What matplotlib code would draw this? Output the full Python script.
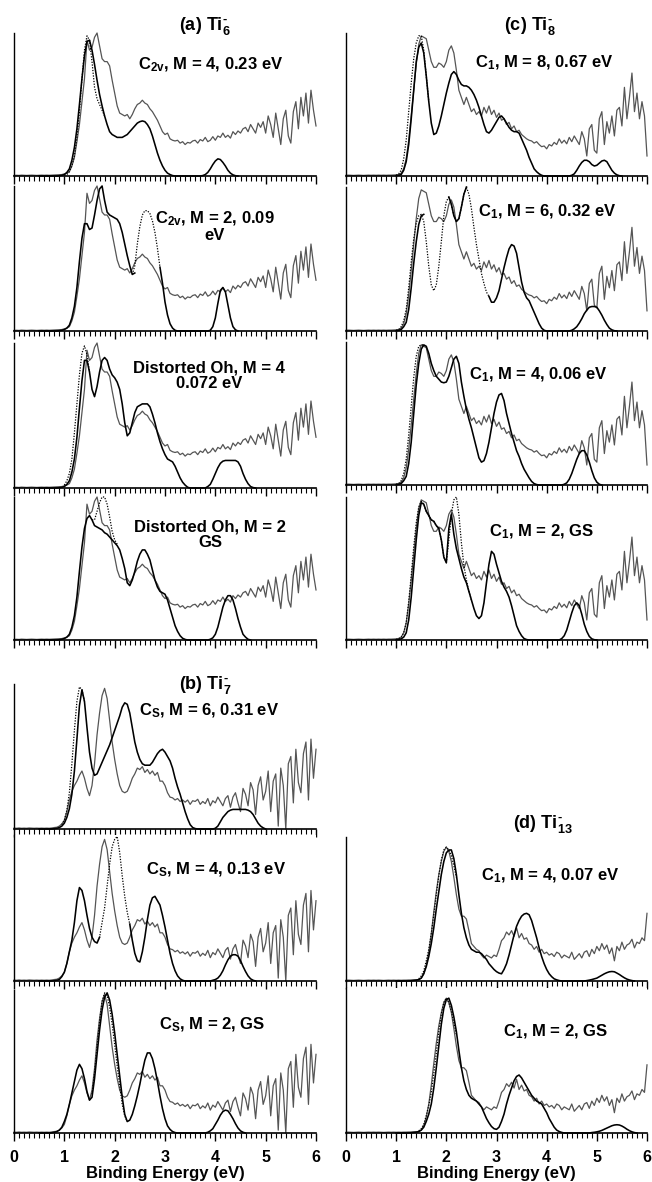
import numpy as np
import matplotlib.pyplot as plt
from matplotlib.ticker import MultipleLocator

plt.rcParams["font.family"] = ["Liberation Sans", "DejaVu Sans"]
plt.rcParams["font.weight"] = "bold"
plt.rcParams["mathtext.fontset"] = "custom"
plt.rcParams["mathtext.rm"] = "Liberation Sans:bold"
plt.rcParams["mathtext.it"] = "Liberation Sans:bold"
plt.rcParams["mathtext.bf"] = "Liberation Sans:bold"
plt.rcParams["mathtext.sf"] = "Liberation Sans:bold"

nan = np.nan
STEP = 0.05   # eV, sampling of every curve below

# ---- experimental spectra, 0.00 ... 6.00 eV (rows of 0.5 eV) ----
TI6_EXP = [
    0.004, 0.005, 0.004, 0.006, 0.005, 0.004, 0.005, 0.006, 0.005, 0.004,
    0.005, 0.006, 0.005, 0.006, 0.005, 0.006, 0.007, 0.008, 0.009, 0.010,
    0.015, 0.02, 0.03, 0.07, 0.13, 0.24, 0.36, 0.52, 0.68, 0.95,
    0.88, 0.90, 0.97, 1.00, 0.91, 0.82, 0.80, 0.80, 0.77, 0.67,
    0.58, 0.49, 0.44, 0.43, 0.42, 0.43, 0.40, 0.43, 0.47, 0.50,
    0.51, 0.53, 0.51, 0.50, 0.47, 0.45, 0.42, 0.39, 0.35, 0.31,
    0.29, 0.30, 0.26, 0.25, 0.245, 0.25, 0.23, 0.24, 0.22, 0.235,
    0.23, 0.245, 0.25, 0.23, 0.255, 0.245, 0.27, 0.24, 0.25, 0.275,
    0.25, 0.28, 0.27, 0.30, 0.27, 0.285, 0.265, 0.31, 0.29, 0.315,
    0.30, 0.33, 0.34, 0.31, 0.36, 0.33, 0.30, 0.37, 0.34, 0.38,
    0.30, 0.42, 0.36, 0.27, 0.44, 0.33, 0.22, 0.40, 0.46, 0.28,
    0.23, 0.45, 0.52, 0.33, 0.55, 0.42, 0.58, 0.37, 0.60, 0.46,
    0.35,
]
TI7_EXP = [
    0.006, 0.005, 0.007, 0.005, 0.006, 0.005, 0.007, 0.006, 0.005, 0.006,
    0.005, 0.006, 0.005, 0.006, 0.005, 0.007, 0.010, 0.012, 0.020, 0.035,
    0.06, 0.12, 0.20, 0.26, 0.30, 0.33, 0.37, 0.40, 0.35, 0.28,
    0.23, 0.30, 0.45, 0.65, 0.80, 0.92, 0.97, 0.90, 0.75, 0.60,
    0.48, 0.38, 0.30, 0.26, 0.25, 0.26, 0.30, 0.35, 0.38, 0.42,
    0.41, 0.43, 0.39, 0.41, 0.38, 0.40, 0.37, 0.39, 0.33, 0.33,
    0.30, 0.25, 0.22, 0.215, 0.20, 0.21, 0.19, 0.20, 0.185, 0.20,
    0.17, 0.195, 0.19, 0.205, 0.17, 0.19, 0.175, 0.21, 0.16, 0.195,
    0.18, 0.22, 0.19, 0.16, 0.21, 0.23, 0.15, 0.22, 0.25, 0.18,
    0.12, 0.28, 0.24, 0.16, 0.32, 0.27, 0.10, 0.30, 0.36, 0.20,
    0.26, 0.40, 0.12, 0.33, 0.38, 0.02, 0.42, 0.30, 0.00, 0.45,
    0.50, 0.18, 0.55, 0.32, 0.25, 0.52, 0.60, 0.20, 0.62, 0.35,
    0.55,
]
TI8_EXP = [
    0.005, 0.006, 0.005, 0.004, 0.005, 0.006, 0.005, 0.004, 0.005, 0.006,
    0.005, 0.006, 0.005, 0.006, 0.005, 0.006, 0.005, 0.006, 0.006, 0.007,
    0.008, 0.01, 0.02, 0.05, 0.12, 0.25, 0.42, 0.60, 0.78, 0.92,
    0.98, 0.97, 0.96, 0.88, 0.80, 0.76, 0.76, 0.79, 0.78, 0.76,
    0.80, 0.88, 0.91, 0.86, 0.74, 0.60, 0.55, 0.50, 0.55, 0.50,
    0.45, 0.47, 0.43, 0.45, 0.42, 0.48, 0.44, 0.49, 0.43, 0.46,
    0.41, 0.44, 0.39, 0.40, 0.36, 0.375, 0.33, 0.35, 0.31, 0.32,
    0.29, 0.275, 0.26, 0.25, 0.245, 0.23, 0.24, 0.22, 0.205, 0.21,
    0.19, 0.22, 0.21, 0.235, 0.22, 0.26, 0.23, 0.25, 0.225, 0.27,
    0.24, 0.28, 0.25, 0.22, 0.31, 0.26, 0.14, 0.33, 0.36, 0.18,
    0.16, 0.40, 0.45, 0.22, 0.38, 0.30, 0.42, 0.28, 0.46, 0.48,
    0.35, 0.62, 0.40, 0.55, 0.72, 0.45, 0.58, 0.40, 0.52, 0.42,
    0.14,
]
TI13_EXP = [
    0.005, 0.006, 0.005, 0.004, 0.005, 0.006, 0.005, 0.004, 0.005, 0.006,
    0.005, 0.006, 0.005, 0.006, 0.005, 0.004, 0.005, 0.006, 0.005, 0.006,
    0.005, 0.006, 0.005, 0.006, 0.006, 0.007, 0.007, 0.008, 0.009, 0.010,
    0.02, 0.05, 0.11, 0.20, 0.33, 0.48, 0.62, 0.74, 0.83, 0.90,
    0.93, 0.90, 0.83, 0.72, 0.60, 0.50, 0.45, 0.45, 0.43, 0.35,
    0.26, 0.24, 0.22, 0.21, 0.18, 0.16, 0.18, 0.17, 0.16, 0.18,
    0.17, 0.22, 0.28, 0.30, 0.34, 0.32, 0.35, 0.31, 0.37, 0.30,
    0.33, 0.29, 0.30, 0.26, 0.25, 0.22, 0.24, 0.20, 0.22, 0.19,
    0.20, 0.18, 0.19, 0.17, 0.20, 0.19, 0.16, 0.18, 0.17, 0.16,
    0.20, 0.15, 0.17, 0.19, 0.16, 0.20, 0.21, 0.17, 0.22, 0.19,
    0.24, 0.21, 0.26, 0.22, 0.25, 0.19, 0.23, 0.14, 0.24, 0.21,
    0.27, 0.22, 0.25, 0.26, 0.29, 0.23, 0.27, 0.26, 0.30, 0.28,
    0.47,
]

# ---- calculated spectra, solid: (start eV, values); nan = drawn dotted only ----
A1_CALC = (0.5, [
    0, 0, 0, 0, 0, 0, 0, 0, 0.002, 0.005,
    0.01, 0.025, 0.05, 0.11, 0.20, 0.33, 0.50, 0.68, 0.84, 0.94,
    0.95, 0.88, 0.78, 0.67, 0.57, 0.49, 0.42, 0.36, 0.31, 0.29,
    0.28, 0.27, 0.27, 0.27, 0.28, 0.29, 0.31, 0.33, 0.35, 0.37,
    0.38, 0.385, 0.38, 0.36, 0.33, 0.28, 0.22, 0.16, 0.11, 0.07,
    0.04, 0.02, 0.01, 0.003, 0, 0, 0, 0, 0, 0,
    0, 0, 0, 0, 0, 0.003, 0.01, 0.025, 0.05, 0.08,
    0.105, 0.12, 0.115, 0.095, 0.07, 0.04, 0.02, 0.008, 0.002, 0,
])
A2_CALC = (0.5, [
    0, 0, 0, 0, 0, 0, 0, 0, 0.002, 0.005,
    0.01, 0.02, 0.04, 0.09, 0.17, 0.30, 0.48, 0.64, 0.74, 0.74,
    0.70, 0.71, 0.80, 0.90, 0.98, 1.00, 0.90, 0.82, 0.80, 0.79,
    0.78, 0.77, 0.74, 0.68, 0.60, 0.52, 0.45, 0.39, 0.40, nan,
    nan, nan, nan, nan, nan, nan, nan, nan, 0.44, 0.33,
    0.20, 0.11, 0.05, 0.02, 0.005, 0, 0, 0, 0, 0,
    0, 0, 0, 0, 0, 0, 0, 0, 0.005, 0.03,
    0.09, 0.19, 0.28, 0.30, 0.27, 0.18, 0.09, 0.03, 0.008, 0,
])
A3_CALC = (0.5, [
    0, 0, 0, 0, 0, 0, 0, 0, 0.002, 0.005,
    0.01, 0.025, 0.05, 0.11, 0.20, 0.35, 0.55, 0.74, 0.88, 0.88,
    0.80, 0.68, 0.63, 0.70, 0.80, 0.88, 0.90, 0.88, 0.82, 0.78,
    0.76, 0.73, 0.68, 0.58, 0.45, 0.36, 0.38, 0.45, 0.52, 0.56,
    0.57, 0.58, 0.58, 0.58, 0.56, 0.51, 0.45, 0.38, 0.32, 0.27,
    0.23, 0.20, 0.19, 0.18, 0.15, 0.11, 0.07, 0.04, 0.02, 0.005,
    0, 0, 0, 0, 0, 0, 0, 0.01, 0.025, 0.06,
    0.10, 0.14, 0.17, 0.185, 0.19, 0.19, 0.19, 0.19, 0.19, 0.18,
    0.15, 0.10, 0.06, 0.03, 0.01, 0.003, 0,
])
A4_CALC = (0.5, [
    0, 0, 0, 0, 0, 0, 0, 0, 0.002, 0.005,
    0.01, 0.02, 0.04, 0.09, 0.17, 0.30, 0.48, 0.65, 0.78, 0.85,
    0.87, 0.84, 0.80, 0.79, 0.78, 0.77, 0.75, 0.74, 0.72, 0.70,
    0.68, 0.66, 0.63, 0.57, 0.50, 0.40, 0.38, 0.42, 0.48, 0.55,
    0.60, 0.63, 0.63, 0.60, 0.56, 0.49, 0.42, 0.37, 0.34, 0.33,
    0.32, 0.28, 0.22, 0.16, 0.10, 0.06, 0.03, 0.012, 0.004, 0,
    0, 0, 0, 0, 0, 0, 0, 0, 0.005, 0.015,
    0.04, 0.09, 0.16, 0.23, 0.28, 0.31, 0.31, 0.28, 0.22, 0.15,
    0.09, 0.04, 0.02, 0.005, 0,
])
B1_CALC = (0.5, [
    0, 0, 0, 0, 0, 0, 0.002, 0.005, 0.01, 0.02,
    0.04, 0.08, 0.14, 0.24, 0.40, 0.62, 0.85, 0.96, 0.88, 0.70,
    0.53, 0.42, 0.37, 0.38, 0.42, 0.46, 0.50, 0.54, 0.58, 0.63,
    0.68, 0.73, 0.78, 0.84, 0.87, 0.86, 0.80, 0.70, 0.60, 0.53,
    0.48, 0.45, 0.44, 0.44, 0.44, 0.46, 0.49, 0.52, 0.54, 0.55,
    0.53, 0.50, 0.47, 0.42, 0.35, 0.29, 0.24, 0.18, 0.12, 0.07,
    0.03, 0.01, 0.003, 0, 0, 0, 0, 0, 0, 0,
    0.005, 0.02, 0.05, 0.08, 0.10, 0.12, 0.13, 0.135, 0.135, 0.135,
    0.135, 0.135, 0.135, 0.13, 0.12, 0.10, 0.07, 0.04, 0.02, 0.008,
    0,
])
B2_CALC = (0.5, [
    0, 0, 0, 0, 0, 0, 0.002, 0.005, 0.01, 0.03,
    0.06, 0.12, 0.20, 0.28, 0.40, 0.55, 0.64, 0.62, 0.55, 0.45,
    0.36, 0.30, 0.27, 0.26, 0.30, nan, nan, nan, nan, nan,
    nan, nan, nan, nan, nan, nan, 0.39, 0.28, 0.19, 0.14,
    0.13, 0.20, 0.30, 0.42, 0.52, 0.57, 0.58, 0.55, 0.52, 0.45,
    0.37, 0.28, 0.19, 0.12, 0.07, 0.035, 0.015, 0.005, 0, 0,
    0, 0, 0, 0, 0, 0, 0, 0, 0, 0.005,
    0.01, 0.02, 0.04, 0.07, 0.11, 0.145, 0.17, 0.18, 0.18, 0.17,
    0.14, 0.10, 0.065, 0.035, 0.015, 0.005, 0,
])
B3_CALC = (0.5, [
    0, 0, 0, 0, 0, 0.002, 0.005, 0.01, 0.02, 0.04,
    0.08, 0.13, 0.20, 0.28, 0.36, 0.44, 0.48, 0.45, 0.38, 0.29,
    0.23, 0.25, 0.38, 0.55, 0.72, 0.86, 0.95, 0.98, 0.93, 0.83,
    0.70, 0.55, 0.40, 0.25, 0.13, 0.08, 0.09, 0.13, 0.19, 0.26,
    0.34, 0.43, 0.51, 0.56, 0.56, 0.52, 0.45, 0.36, 0.26, 0.17,
    0.10, 0.05, 0.025, 0.01, 0.003, 0, 0, 0, 0, 0,
    0, 0, 0, 0, 0, 0, 0, 0.005, 0.015, 0.03,
    0.06, 0.09, 0.125, 0.15, 0.16, 0.155, 0.13, 0.10, 0.065, 0.035,
    0.015, 0.005, 0,
])
C1_CALC = (1.0, [
    0.002, 0.005, 0.01, 0.04, 0.10, 0.22, 0.40, 0.60, 0.80, 0.90,
    0.93, 0.86, 0.70, 0.52, 0.37, 0.29, 0.30, 0.35, 0.42, 0.50,
    0.58, 0.65, 0.71, 0.73, 0.71, 0.67, 0.64, 0.63, 0.63, 0.62,
    0.60, 0.57, 0.53, 0.48, 0.42, 0.36, 0.31, 0.30, 0.32, 0.35,
    0.38, 0.41, 0.42, 0.40, 0.37, 0.34, 0.32, 0.31, 0.31, 0.30,
    0.26, 0.22, 0.18, 0.13, 0.09, 0.05, 0.03, 0.015, 0.005, 0,
    0, 0, 0, 0, 0, 0, 0, 0, 0, 0,
    0.005, 0.015, 0.04, 0.07, 0.095, 0.11, 0.11, 0.10, 0.08, 0.07,
    0.075, 0.09, 0.105, 0.11, 0.10, 0.07, 0.04, 0.02, 0.008, 0.002,
    0,
])
C2_CALC = (1.0, [
    0.002, 0.005, 0.01, 0.03, 0.06, 0.15, 0.30, 0.47, 0.62, 0.74,
    0.80, 0.81, nan, nan, nan, nan, nan, nan, nan, nan,
    nan, 0.93, 0.88, 0.80, 0.76, 0.78, 0.86, 0.95, 1.00, nan,
    nan, nan, nan, nan, nan, nan, nan, 0.24, 0.20, 0.20,
    0.23, 0.28, 0.36, 0.44, 0.51, 0.57, 0.60, 0.59, 0.54, 0.44,
    0.34, 0.27, 0.23, 0.21, 0.17, 0.13, 0.09, 0.05, 0.02, 0.005,
    0, 0, 0, 0, 0, 0, 0, 0, 0, 0,
    0.005, 0.015, 0.03, 0.055, 0.085, 0.12, 0.145, 0.165, 0.17, 0.17,
    0.165, 0.14, 0.11, 0.075, 0.045, 0.02, 0.008, 0.002, 0,
])
C3_CALC = (1.0, [
    0.002, 0.005, 0.01, 0.03, 0.06, 0.15, 0.30, 0.50, 0.70, 0.85,
    0.95, 0.98, 0.97, 0.92, 0.85, 0.80, 0.76, 0.74, 0.72, 0.715,
    0.72, 0.76, 0.82, 0.88, 0.90, 0.85, 0.72, 0.62, 0.53, 0.46,
    0.40, 0.33, 0.26, 0.19, 0.16, 0.17, 0.22, 0.30, 0.40, 0.50,
    0.58, 0.63, 0.64, 0.59, 0.50, 0.43, 0.36, 0.30, 0.24, 0.20,
    0.15, 0.11, 0.08, 0.05, 0.025, 0.01, 0.003, 0, 0, 0,
    0, 0, 0, 0, 0, 0, 0, 0.005, 0.015, 0.04,
    0.08, 0.13, 0.18, 0.22, 0.24, 0.24, 0.21, 0.16, 0.10, 0.05,
    0.02, 0.005, 0,
])
C4_CALC = (1.0, [
    0.002, 0.004, 0.008, 0.02, 0.05, 0.14, 0.30, 0.50, 0.70, 0.87,
    0.96, 0.95, 0.90, 0.87, 0.84, 0.83, 0.80, 0.78, 0.70, 0.58,
    0.54, 0.78, 0.88, 0.74, 0.64, 0.57, 0.50, 0.44, 0.40, 0.34,
    0.28, 0.22, 0.17, 0.15, 0.17, 0.26, 0.40, 0.53, 0.62, 0.60,
    0.53, 0.47, 0.41, 0.37, 0.34, 0.30, 0.24, 0.17, 0.10, 0.06,
    0.03, 0.01, 0.003, 0, 0, 0, 0, 0, 0, 0,
    0, 0, 0, 0, 0, 0, 0.01, 0.03, 0.07, 0.13,
    0.19, 0.24, 0.26, 0.24, 0.18, 0.11, 0.06, 0.025, 0.008, 0.002,
    0,
])
D1_CALC = (1.0, [
    0, 0, 0, 0, 0, 0, 0.002, 0.004, 0.006, 0.01,
    0.02, 0.05, 0.10, 0.17, 0.26, 0.37, 0.50, 0.62, 0.74, 0.83,
    0.89, 0.91, 0.91, 0.85, 0.74, 0.60, 0.47, 0.37, 0.30, 0.25,
    0.22, 0.21, 0.20, 0.20, 0.19, 0.17, 0.15, 0.12, 0.10, 0.08,
    0.065, 0.055, 0.05, 0.08, 0.12, 0.18, 0.25, 0.32, 0.38, 0.42,
    0.45, 0.465, 0.47, 0.46, 0.42, 0.36, 0.30, 0.23, 0.17, 0.12,
    0.08, 0.05, 0.03, 0.015, 0.008, 0.003, 0, 0, 0, 0,
    0, 0, 0, 0, 0, 0, 0.003, 0.006, 0.01, 0.015,
    0.02, 0.03, 0.04, 0.05, 0.058, 0.064, 0.066, 0.064, 0.055, 0.045,
    0.033, 0.022, 0.013, 0.007, 0.003, 0,
])
D2_CALC = (1.0, [
    0, 0, 0, 0, 0, 0, 0.002, 0.004, 0.006, 0.01,
    0.02, 0.04, 0.08, 0.13, 0.20, 0.31, 0.45, 0.60, 0.75, 0.86,
    0.92, 0.93, 0.88, 0.80, 0.70, 0.57, 0.45, 0.36, 0.30, 0.26,
    0.24, 0.23, 0.22, 0.20, 0.18, 0.14, 0.10, 0.07, 0.045, 0.03,
    0.025, 0.04, 0.08, 0.13, 0.20, 0.26, 0.31, 0.36, 0.39, 0.40,
    0.38, 0.35, 0.32, 0.29, 0.26, 0.24, 0.22, 0.21, 0.20, 0.17,
    0.14, 0.10, 0.07, 0.04, 0.02, 0.01, 0.004, 0, 0, 0,
    0, 0, 0, 0, 0, 0, 0, 0, 0.003, 0.005,
    0.008, 0.012, 0.018, 0.026, 0.034, 0.042, 0.05, 0.055, 0.057, 0.055,
    0.048, 0.038, 0.026, 0.016, 0.008, 0.003, 0,
])

# ---- calculated spectra, dotted: (start eV, values) ----
A1_DOT = (1.0, [0.005, 0.01, 0.03, 0.07, 0.14, 0.27, 0.45, 0.68, 0.88, 0.98,
                0.95, 0.80, 0.62, 0.54, 0.50, 0.46, 0.42])
A2_DOT = (2.35, [0.39, 0.45, 0.60, 0.72, 0.80, 0.83, 0.83, 0.81, 0.76, 0.68, 0.57, 0.44])
A3_DOT = (1.0, [0.02, 0.05, 0.10, 0.20, 0.38, 0.58, 0.78, 0.93, 0.98, 0.92, 0.80])
A4_DOT = (1.55, [0.84, 0.84, 0.90, 0.96, 1.00, 1.00, 0.95, 0.86, 0.76, 0.70, 0.67])
B1_DOT = (0.95, [0.03, 0.06, 0.13, 0.25, 0.45, 0.68, 0.88, 0.98, 0.96, 0.88])
B2_DOT = (1.65, [0.26, 0.30, 0.40, 0.50, 0.65, 0.80, 0.92, 0.97, 0.99, 0.88,
                 0.72, 0.58, 0.47, 0.39])
B3_DOT = (1.55, [0.27, 0.42, 0.60, 0.78, 0.92, 0.98, 0.96, 0.88, 0.76, 0.62,
                 0.47, 0.33, 0.20, 0.12, 0.08])
C1_DOT = (1.0, [0.005, 0.015, 0.04, 0.12, 0.25, 0.45, 0.65, 0.82, 0.93, 0.98,
                0.98, 0.88, 0.70, 0.52])
C2_DOT = (1.0, [0.005, 0.01, 0.03, 0.07, 0.15, 0.30, 0.48, 0.64, 0.75, 0.80,
                0.81, 0.76, 0.62, 0.45, 0.32, 0.28, 0.32, 0.45, 0.62, 0.80,
                0.90, 0.93, 0.88, 0.80, 0.76, 0.78, 0.86, 0.95, 1.00, 0.95,
                0.85, 0.72, 0.60, 0.50, 0.40, 0.33, 0.27, 0.24])
C3_DOT = (1.0, [0.005, 0.01, 0.03, 0.08, 0.18, 0.35, 0.55, 0.75, 0.90, 0.97,
                0.98, 0.98])
C4_DOT = (1.0, [0.004, 0.01, 0.02, 0.05, 0.12, 0.27, 0.45, 0.65, 0.82, 0.93,
                0.97, 0.95, 0.90, 0.87, 0.84, 0.83, 0.80, 0.78, 0.70, 0.58,
                0.54, 0.70, 0.88, 0.98, 1.00, 0.88, 0.68, 0.52, 0.42, 0.34,
                0.28])
D1_DOT = (1.45, [0.015, 0.035, 0.07, 0.14, 0.22, 0.33, 0.46, 0.60, 0.73, 0.84,
                 0.91, 0.93, 0.91, 0.87, 0.80, 0.72])
D2_DOT = (1.45, [0.015, 0.03, 0.06, 0.12, 0.19, 0.28, 0.41, 0.55, 0.70, 0.82,
                 0.90, 0.93, 0.90, 0.84, 0.76, 0.68])

LABELS = {
    "a1": "C$_{2v}$, M = 4, 0.23 eV",
    "a2": "C$_{2v}$, M = 2, 0.09\neV",
    "a3": "Distorted Oh, M = 4\n0.072 eV",
    "a4": "Distorted Oh, M = 2\nGS",
    "b1": "C$_S$, M = 6, 0.31 eV",
    "b2": "C$_S$, M = 4, 0.13 eV",
    "b3": "C$_S$, M = 2, GS",
    "c1": "C$_1$, M = 8, 0.67 eV",
    "c2": "C$_1$, M = 6, 0.32 eV",
    "c3": "C$_1$, M = 4, 0.06 eV",
    "c4": "C$_1$, M = 2, GS",
    "d1": "C$_1$, M = 4, 0.07 eV",
    "d2": "C$_1$, M = 2, GS",
}
TITLES = [r"(a) Ti$_{6}^{\text{-}}$", r"(b) Ti$_{7}^{\text{-}}$",
          r"(c) Ti$_{8}^{\text{-}}$", r"(d) Ti$_{13}^{\text{-}}$"]

# ---- layout in pixels of a 652 x 1182 canvas ----
FIG_W, FIG_H = 652, 1182
LEFT_X = (14, 316)
RIGHT_X = (346, 647)

# key, exp, solid, dotted, column, (top, bottom), label pos (axes fraction), tick labels
PANELS = [
    ("a1", TI6_EXP, A1_CALC, A1_DOT, LEFT_X, (33, 176), (0.65, 0.78), False),
    ("a2", TI6_EXP, A2_CALC, A2_DOT, LEFT_X, (186, 331), (0.665, 0.72), False),
    ("a3", TI6_EXP, A3_CALC, A3_DOT, LEFT_X, (343, 488), (0.645, 0.775), False),
    ("a4", TI6_EXP, A4_CALC, A4_DOT, LEFT_X, (497, 640), (0.65, 0.735), False),
    ("b1", TI7_EXP, B1_CALC, B1_DOT, LEFT_X, (684, 829), (0.645, 0.815), False),
    ("b2", TI7_EXP, B2_CALC, B2_DOT, LEFT_X, (835, 981), (0.67, 0.76), False),
    ("b3", TI7_EXP, B3_CALC, B3_DOT, LEFT_X, (990, 1133), (0.655, 0.755), True),
    ("c1", TI8_EXP, C1_CALC, C1_DOT, RIGHT_X, (33, 176), (0.66, 0.79), False),
    ("c2", TI8_EXP, C2_CALC, C2_DOT, RIGHT_X, (187, 331), (0.67, 0.825), False),
    ("c3", TI8_EXP, C3_CALC, C3_DOT, RIGHT_X, (342, 485), (0.64, 0.77), False),
    ("c4", TI8_EXP, C4_CALC, C4_DOT, RIGHT_X, (497, 640), (0.65, 0.755), False),
    ("d1", TI13_EXP, D1_CALC, D1_DOT, RIGHT_X, (837, 981), (0.68, 0.73), False),
    ("d2", TI13_EXP, D2_CALC, D2_DOT, RIGHT_X, (988, 1133), (0.695, 0.70), True),
]
TITLE_POS = [(205, 26), (205, 685), (530, 26), (543, 824)]


def curve(start, values):
    return start + STEP * np.arange(len(values)), values


def draw_panel(fig, key, exp, solid, dot, xcol, rows, lpos, ticklabels):
    x0, x1 = xcol
    top, bottom = rows
    ax = fig.add_axes([x0 / FIG_W, 1 - bottom / FIG_H,
                       (x1 - x0) / FIG_W, (bottom - top) / FIG_H])

    ax.plot(*curve(0.0, exp), color="#555555", lw=0.9, clip_on=False)
    ax.plot(*curve(*solid), color="black", lw=1.15, clip_on=False)
    ax.plot(*curve(*dot), color="black", lw=0.9, ls=(0, (1, 1.2)), clip_on=False)

    ax.set_xlim(0, 6)
    ax.set_ylim(0, 1.0)
    for side in ("top", "right"):
        ax.spines[side].set_visible(False)
    ax.spines["left"].set_linewidth(1.0)
    ax.spines["bottom"].set_linewidth(1.2)
    ax.set_yticks([])
    ax.xaxis.set_major_locator(MultipleLocator(1))
    ax.xaxis.set_minor_locator(MultipleLocator(0.1))
    ax.tick_params(axis="x", which="major", direction="out", length=6, width=1.0,
                   labelsize=11.5, pad=6, labelbottom=ticklabels)
    ax.tick_params(axis="x", which="minor", direction="out", length=3.5, width=0.8)
    if ticklabels:
        for t in ax.get_xticklabels():
            t.set_fontweight("bold")
        ax.set_xlabel("Binding Energy (eV)", fontsize=12, fontweight="bold", labelpad=1)

    ax.text(lpos[0], lpos[1], LABELS[key], transform=ax.transAxes, ha="center",
            va="center", fontsize=12, fontweight="bold", linespacing=1.0)
    return ax


fig = plt.figure(figsize=(FIG_W / 100, FIG_H / 100), dpi=100)
for key, exp, solid, dot, xcol, rows, lpos, tl in PANELS:
    draw_panel(fig, key, exp, solid, dot, xcol, rows, lpos, tl)

for title, (px, py) in zip(TITLES, TITLE_POS):
    fig.text(px / FIG_W, 1 - py / FIG_H, title, ha="center", va="center",
             fontsize=13, fontweight="bold")

fig.savefig("out.png", dpi=100)
